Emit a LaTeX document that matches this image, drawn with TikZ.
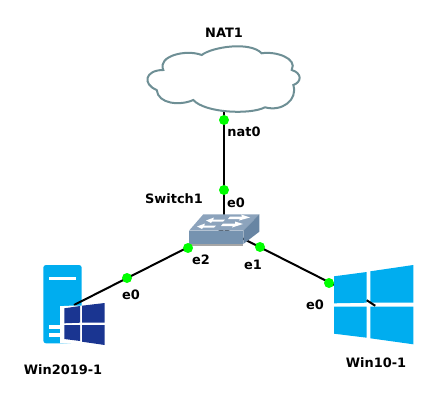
\documentclass[tikz,border=0pt]{standalone}
\usepackage{fontspec}
\setmainfont{DejaVu Sans}
\usetikzlibrary{positioning}
\definecolor{cloudline}{RGB}{110,143,149}
\definecolor{winblue}{RGB}{0,173,239}
\definecolor{navywin}{RGB}{26,53,145}
\definecolor{swfront}{RGB}{118,147,176}
\definecolor{swtop}{RGB}{140,163,188}
\definecolor{swside}{RGB}{104,133,163}
\begin{document}
\begin{tikzpicture}[x=0.75pt,y=-0.75pt, every node/.style={inner sep=0pt},
	device/.style={minimum size=60pt},
	link/.style={line width=1.5pt},
	port/.style={circle,fill=green,minimum size=7.5pt},
	lbl/.style={font=\bfseries\fontsize{9.7pt}{11pt}\selectfont,text=black}]
		\useasboundingbox (0,0) rectangle (434,402);
		\node[device]   (nat1)    at (224,79)  {};
		\node[device]   (sw1)     at (224,229) {};
		\node[device]   (win2019) at (74,305)  {};
		\node[device]   (win10)   at (374,305) {};
		% server body
		\fill[winblue,rounded corners=2pt] (43.3,343.3) -- (43.3,265) -- (81.7,265) -- (81.7,343.3) -- cycle;
		\fill[white] (49,276.7) rectangle (75.7,280.3);
		\fill[white] (49,325) rectangle (62,329);
		\fill[white] (49,333) rectangle (62,336.7);
	\path[link] (nat1.center) edge (sw1.center)
				(sw1.center) edge (win2019.center)
				(sw1.center) edge (win10.center);
		% cloud
		\draw[cloudline,line width=1.5pt,fill=white] (201.7,55) .. controls (212,47) and (250,41) .. (261.7,53.3)
			.. controls (275,51) and (298,58) .. (291.7,70)
			.. controls (302,73) and (302,82) .. (293.3,85)
			.. controls (298,100) and (282,112) .. (265,107.3)
			.. controls (250,115) and (205,113) .. (193.3,100)
			.. controls (180,106) and (158,104) .. (156.7,90)
			.. controls (142,84) and (145,70) .. (163.3,70)
			.. controls (157,56) and (186,49) .. (201.7,55) -- cycle;
		% switch
		\fill[swtop] (189,230.7) -- (203.3,214.3) -- (259.3,214.3) -- (243.3,230.7) -- cycle;
		\fill[swfront] (189,230.7) rectangle (243.3,244);
		\fill[swside] (243.3,230.7) -- (259.3,214.3) -- (259.3,231.7) -- (243.3,244) -- cycle;
		\fill[black!35] (189,244) rectangle (243.3,245.5);
		\fill[white] (206,220.5) -- (214,217.5) -- (213,219.5) -- (225,219.5) -- (223,221.5) -- (212,221.5) -- (211,223) -- cycle;
		\fill[white] (250,217.5) -- (241,214.5) -- (242,216.5) -- (230,216.5) -- (228,219) -- (240,219) -- (239,220.5) -- cycle;
		\fill[white] (197,226.5) -- (205,223.5) -- (204,225.5) -- (216,225.5) -- (214,227.5) -- (203,227.5) -- (202,229) -- cycle;
		\fill[white] (243,224) -- (235,221.5) -- (235,223.5) -- (223,223.5) -- (221,226) -- (233,226) -- (232,227.5) -- cycle;
		% windows logo on server
		\fill[white] (60,306.2) -- (74,305.5) -- (82,305.5) -- (105,303) -- (105,346) -- (60,343) -- cycle;
		\fill[navywin] (64.3,308.3) -- (80,306) -- (80,322.7) -- (64.3,323.3) -- cycle;
		\fill[navywin] (82,305.7) -- (104.7,303) -- (104.7,322.7) -- (82,322.7) -- cycle;
		\fill[navywin] (64.3,325) -- (80,325) -- (80,341) -- (64.3,339) -- cycle;
		\fill[navywin] (82,325) -- (104.7,325) -- (104.7,345) -- (82,341.7) -- cycle;
		% windows 10 logo
		\fill[white] (334,276.3) -- (413.3,265) -- (413.3,344.3) -- (334,333.7) -- cycle;
		\fill[winblue] (334,276.3) -- (366.7,272) -- (366.7,302.7) -- (334,303.3) -- cycle;
		\fill[winblue] (370.3,271.3) -- (413.3,265) -- (413.3,302.7) -- (370.3,302.7) -- cycle;
		\fill[winblue] (334,306.7) -- (366.7,306.7) -- (366.7,337.7) -- (334,333.7) -- cycle;
		\fill[winblue] (370.3,306.7) -- (413.3,306.7) -- (413.3,344.3) -- (370.3,338.3) -- cycle;
		\draw[link] (366.7,300.2) -- (win10.center) -- (375.3,305.7);
		% ports
		\node[port] (natport)  at (224,120) {};
		\node[port] (swtop)    at (224,190) {};
		\node[port] (swleft)   at (188,248) {};
		\node[port] (swright)  at (260,247) {};
		\node[port] (srvport)  at (127,278) {};
		\node[port] (winport)  at (329,283) {};
		% labels
		\node[lbl] (natlbl)   at (224,33)  {NAT1};
		\node[lbl] (nat0lbl)  at (244,132) {nat0};
		\node[lbl] (e0swlbl)  at (236,203) {e0};
		\node[lbl] (swlbl)    at (174,199) {Switch1};
		\node[lbl] (e2lbl)    at (201,260) {e2};
		\node[lbl] (e1lbl)    at (253,265) {e1};
		\node[lbl] (e0srvlbl) at (131,295) {e0};
		\node[lbl] (e0winlbl) at (315,305) {e0};
		\node[lbl] (srvlbl)   at (63,370)  {Win2019-1};
		\node[lbl] (winlbl)   at (376,363) {Win10-1};
	\end{tikzpicture}
\end{document}
